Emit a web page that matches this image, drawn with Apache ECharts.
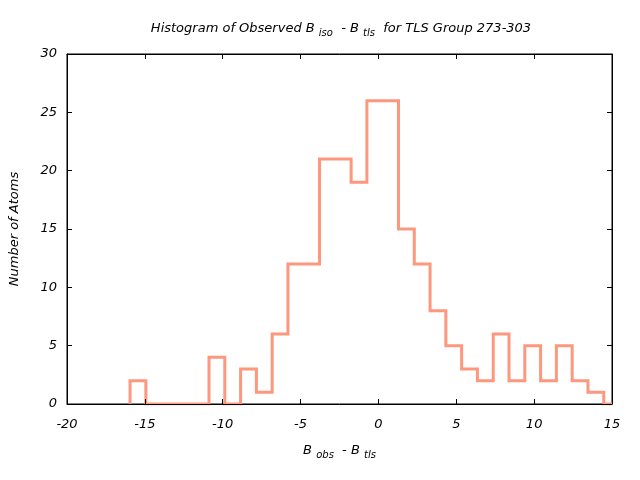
<!DOCTYPE html>
<html>
<head>
<meta charset="utf-8">
<script src="https://cdn.jsdelivr.net/npm/echarts@6/dist/echarts.min.js"></script>
<style>html,body{margin:0;padding:0;background:#fff}#c{width:640px;height:480px}</style>
</head>
<body>
<div id="c"></div>
<script>
// Histogram bins
const binStart = -15.95;
const binWidth = 1.014;
const counts = [2,0,0,0,0,4,0,3,1,6,12,12,21,21,19,26,26,15,12,8,5,3,2,6,2,5,2,5,2,1];
const xTicks = [-20,-15,-10,-5,0,5,10,15];
const yTicks = [0,5,10,15,20,25,30];

const edges = [];
for (let i = 0; i <= counts.length; i++) edges.push(binStart + i * binWidth);
const pts = [[edges[0], 0]];
counts.forEach((c, i) => { pts.push([edges[i], c]); pts.push([edges[i + 1], c]); });
pts.push([edges[counts.length], 0]);
pts.push([xTicks[xTicks.length - 1], 0]);

const FONT = 'DejaVu Sans';
const base = {fontFamily: FONT, fontStyle: 'italic', fontWeight: 'normal', fontSize: 13, color: '#000'};
const rich = {
  n: {fontFamily: FONT, fontStyle: 'italic', fontWeight: 'normal', fontSize: 13, color: '#000', lineHeight: 18},
  s: {fontFamily: FONT, fontStyle: 'italic', fontWeight: 'normal', fontSize: 10, color: '#000', lineHeight: 10, verticalAlign: 'bottom'}
};
const lineC = '#000';
const chart = echarts.init(document.getElementById('c'), null, {renderer: 'canvas'});
chart.setOption({
  animation: false,
  backgroundColor: '#fff',
  title: {
    text: '{n|Histogram of Observed B }{s|iso}{n|  - B }{s|tls}{n|  for TLS Group 273-303}',
    left: 336, top: 15, textAlign: 'center',
    textStyle: Object.assign({}, base, {rich: rich})
  },
  grid: {left: 67, right: 28, top: 54, bottom: 76, show: true, borderColor: lineC, borderWidth: 1,
         backgroundColor: 'transparent', containLabel: false, outerBoundsMode: 'none'},
  xAxis: [{
    type: 'value', min: -20, max: 15, interval: 5, position: 'bottom', z: 5,
    axisLine: {show: true, onZero: false, lineStyle: {color: lineC, width: 1}},
    axisTick: {show: true, inside: true, length: 5, lineStyle: {color: lineC}},
    axisLabel: Object.assign({margin: 14}, base),
    splitLine: {show: false},
    name: '{n|B }{s|obs}{n|  - B }{s|tls}', nameLocation: 'middle', nameGap: 38,
    nameTextStyle: Object.assign({}, base, {rich: rich})
  }, {
    type: 'value', min: -20, max: 15, interval: 5, position: 'top', z: 5,
    axisLine: {show: true, onZero: false, lineStyle: {color: lineC, width: 1}},
    axisTick: {show: true, inside: true, length: 5, lineStyle: {color: lineC}},
    axisLabel: {show: false}, splitLine: {show: false}
  }],
  yAxis: [{
    type: 'value', min: 0, max: 30, interval: 5, position: 'left', z: 5,
    axisLine: {show: true, onZero: false, lineStyle: {color: lineC, width: 1}},
    axisTick: {show: true, inside: true, length: 5, lineStyle: {color: lineC}},
    axisLabel: Object.assign({margin: 10}, base),
    splitLine: {show: false},
    name: 'Number of Atoms', nameLocation: 'middle', nameGap: 46, nameRotate: 90,
    nameTextStyle: base
  }, {
    type: 'value', min: 0, max: 30, interval: 5, position: 'right', z: 5,
    axisLine: {show: true, onZero: false, lineStyle: {color: lineC, width: 1}},
    axisTick: {show: true, inside: true, length: 5, lineStyle: {color: lineC}},
    axisLabel: {show: false}, splitLine: {show: false}
  }],
  series: [{
    type: 'line', xAxisIndex: 0, yAxisIndex: 0, data: pts, symbol: 'none',
    lineStyle: {color: '#fd977d', width: 3, join: 'miter', cap: 'butt'},
    z: 2, clip: true
  }]
});
</script>
</body>
</html>
